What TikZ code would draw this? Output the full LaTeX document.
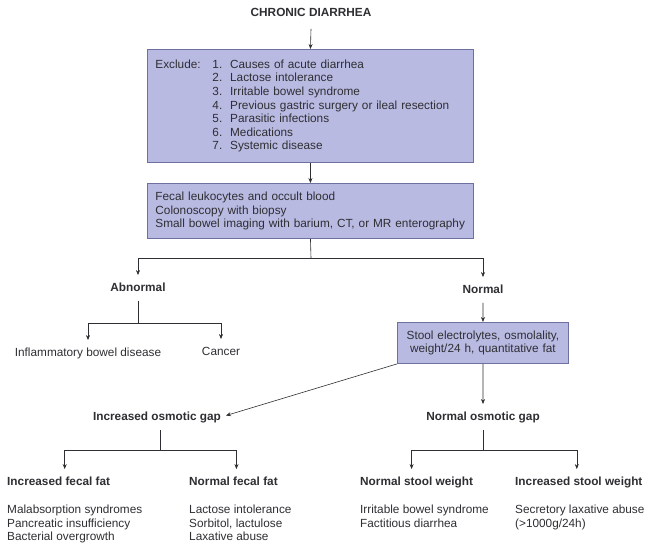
\documentclass[tikz,border=0pt]{standalone}
\usepackage{fontspec}
\setmainfont{Liberation Sans}
\usetikzlibrary{arrows.meta}
\definecolor{boxfill}{HTML}{B9BAE2}
\definecolor{boxline}{HTML}{6E70A0}
\definecolor{txt}{HTML}{2E2E33}
\begin{document}
\begin{tikzpicture}[x=1pt,y=-1pt,
  font=\fontsize{11.8}{13.6}\selectfont, text=txt,
  box/.style={draw=boxline, fill=boxfill, line width=0.9pt, inner xsep=8pt, inner ysep=0pt, anchor=north west},
  lbl/.style={font=\fontsize{11.8}{13.6}\selectfont\bfseries, inner xsep=0pt, inner ysep=7.5pt, text height=8.5pt, text depth=2pt},
  txtlbl/.style={inner xsep=0pt, inner ysep=7.5pt, text height=8.5pt, text depth=2pt},
  plain/.style={inner sep=0pt, align=left, anchor=north west},
  arr/.style={-{Stealth[length=5pt,width=4pt]}, line width=0.6pt, draw=txt},
  ln/.style={line width=0.6pt, draw=txt}]
\useasboundingbox (0,0) rectangle (647,542);

% title
\node[lbl] (t) at (311,13) {CHRONIC DIARRHEA};

% box 1
\node[box, text width=310pt, minimum height=113pt, align=left] (b1) at (147,49)
 {\makebox[57pt][l]{Exclude:}1.\ \ Causes of acute diarrhea\\
  \hspace*{57pt}2.\ \ Lactose intolerance\\
  \hspace*{57pt}3.\ \ Irritable bowel syndrome\\
  \hspace*{57pt}4.\ \ Previous gastric surgery or ileal resection\\
  \hspace*{57pt}5.\ \ Parasitic infections\\
  \hspace*{57pt}6.\ \ Medications\\
  \hspace*{57pt}7.\ \ Systemic disease};

% box 2
\node[box, text width=310pt, minimum height=55pt, align=left] (b2) at (147,183)
 {Fecal leukocytes and occult blood\\
  Colonoscopy with biopsy\\
  Small bowel imaging with barium, CT, or MR enterography};

% abnormal / normal
\node[lbl] (abn) at (138,288) {Abnormal};
\node[lbl] (nor) at (483,290) {Normal};

\node[txtlbl] (ibd) at (88,353) {Inflammatory bowel disease};
\node[txtlbl] (can) at (221,352) {Cancer};

% box 3
\node[box, text width=155pt, minimum height=41pt, align=center] (b3) at (397,322)
 {Stool electrolytes, osmolality,\\ weight/24 h, quantitative fat};

% osmotic gap
\node[lbl] (iog) at (157,417) {Increased osmotic gap};
\node[lbl] (nog) at (483,417) {Normal osmotic gap};

% headers
\node[lbl, anchor=west] (iff) at (7,482) {Increased fecal fat};
\node[lbl, anchor=west] (nff) at (189,482) {Normal fecal fat};
\node[lbl, anchor=west] (nsw) at (360,482) {Normal stool weight};
\node[lbl, anchor=west] (isw) at (515,482) {Increased stool weight};

% lists
\node[plain] (l1) at (7,505) {Malabsorption syndromes\\Pancreatic insufficiency\\Bacterial overgrowth};
\node[plain] (l2) at (189,505) {Lactose intolerance\\Sorbitol, lactulose\\Laxative abuse};
\node[plain] (l3) at (360,505) {Irritable bowel syndrome\\Factitious diarrhea};
\node[plain] (l4) at (515,505) {Secretory laxative abuse\\(>1000g/24h)};

% connectors
\draw[arr] ([yshift=-3pt]t.south) -- (b1.north);
\draw[arr] (b1.south) -- (b2.north);

\coordinate (f1) at (311,258);
\draw[ln] (b2.south) -- (f1);
\draw[arr] (f1) -| (abn.north);
\draw[arr] (f1) -| (nor.north);

\coordinate (f2) at (138,323);
\draw[ln] (abn.south) -- (f2);
\draw[arr] (f2) -| (ibd.north);
\draw[arr] (f2) -| (can.north);

\draw[arr] (nor.south) -- (b3.north);
\draw[arr] (b3.south) -- (nog.north);
\draw[arr, shorten >=5pt] (b3.south west) -- (iog.east);

\coordinate (f3) at (160,450);
\draw[ln] ([xshift=3pt]iog.south) -- (f3);
\draw[arr] (f3) -| ([xshift=6pt]iff.north);
\draw[arr] (f3) -| ([xshift=3pt]nff.north);

\coordinate (f4) at (483,450);
\draw[ln] (nog.south) -- (f4);
\draw[arr] (f4) -| ([xshift=-5pt]nsw.north);
\draw[arr] (f4) -| ([xshift=-2pt]isw.north);
\end{tikzpicture}
\end{document}
